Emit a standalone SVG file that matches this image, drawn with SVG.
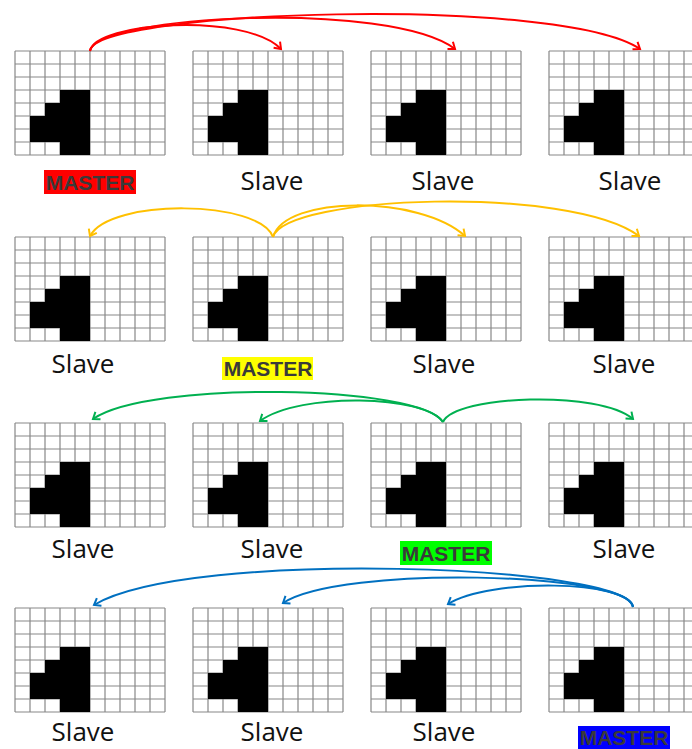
<svg xmlns="http://www.w3.org/2000/svg" xmlns:xlink="http://www.w3.org/1999/xlink" width="692" height="749" viewBox="0 0 692 749">
<style>
.slave{font-family:"Open Sans","Liberation Sans",sans-serif;font-size:26px;fill:#111}
.master{font-family:"Liberation Sans",Arial,sans-serif;font-size:21px;font-weight:bold;fill:#3a3a3a}
.conn{fill:none;stroke-width:2}
.gl{fill:none;stroke:#888;stroke-width:1.2}
</style>
<defs>
<marker id="mr" markerUnits="userSpaceOnUse" markerWidth="14" markerHeight="14" refX="0" refY="0" viewBox="-8 -7 10 14" orient="auto"><path d="M-6,-4.5 L0,0 L-6,4.5" fill="none" stroke="#FF0000" stroke-width="2"/></marker>
<marker id="my" markerUnits="userSpaceOnUse" markerWidth="14" markerHeight="14" refX="0" refY="0" viewBox="-8 -7 10 14" orient="auto"><path d="M-6,-4.5 L0,0 L-6,4.5" fill="none" stroke="#FFC000" stroke-width="2"/></marker>
<marker id="mg" markerUnits="userSpaceOnUse" markerWidth="14" markerHeight="14" refX="0" refY="0" viewBox="-8 -7 10 14" orient="auto"><path d="M-6,-4.5 L0,0 L-6,4.5" fill="none" stroke="#00B050" stroke-width="2"/></marker>
<marker id="mb" markerUnits="userSpaceOnUse" markerWidth="14" markerHeight="14" refX="0" refY="0" viewBox="-8 -7 10 14" orient="auto"><path d="M-6,-4.5 L0,0 L-6,4.5" fill="none" stroke="#0070C0" stroke-width="2"/></marker>
<g id="grid">
<rect x="0" y="0" width="150" height="104" fill="#fff"/>
<path class="gl" d="M0,0V104M15,0V104M30,0V104M45,0V104M60,0V104M75,0V104M90,0V104M105,0V104M120,0V104M135,0V104M150,0V104M0,0H150M0,13H150M0,26H150M0,39H150M0,52H150M0,65H150M0,78H150M0,91H150M0,104H150"/>
<polygon points="45,39 75,39 75,104 45,104 45,91 15,91 15,65 30,65 30,52 45,52" fill="#000"/>
</g>
</defs>
<rect width="692" height="749" fill="#fff"/>

<g id="r1c1"><use xlink:href="#grid" x="15" y="51"/><rect x="44" y="170" width="92" height="24" fill="#FF0000"/><text class="master" x="90" y="190" text-anchor="middle">MASTER</text></g>
<g id="r1c2"><use xlink:href="#grid" x="193" y="51"/><text class="slave" x="272" y="190" text-anchor="middle">Slave</text></g>
<g id="r1c3"><use xlink:href="#grid" x="371" y="51"/><text class="slave" x="443" y="190" text-anchor="middle">Slave</text></g>
<g id="r1c4"><use xlink:href="#grid" x="549" y="51"/><text class="slave" x="630" y="190" text-anchor="middle">Slave</text></g>

<g id="r2c1"><use xlink:href="#grid" x="15" y="237"/><text class="slave" x="83" y="373" text-anchor="middle">Slave</text></g>
<g id="r2c2"><use xlink:href="#grid" x="193" y="237"/><rect x="222" y="357" width="91" height="23" fill="#FFFF00"/><text class="master" x="268" y="376" text-anchor="middle">MASTER</text></g>
<g id="r2c3"><use xlink:href="#grid" x="371" y="237"/><text class="slave" x="444" y="373" text-anchor="middle">Slave</text></g>
<g id="r2c4"><use xlink:href="#grid" x="549" y="237"/><text class="slave" x="624" y="373" text-anchor="middle">Slave</text></g>

<g id="r3c1"><use xlink:href="#grid" x="15" y="423"/><text class="slave" x="83" y="558" text-anchor="middle">Slave</text></g>
<g id="r3c2"><use xlink:href="#grid" x="193" y="423"/><text class="slave" x="272" y="558" text-anchor="middle">Slave</text></g>
<g id="r3c3"><use xlink:href="#grid" x="371" y="423"/><rect x="400" y="541" width="92" height="24" fill="#00FF00"/><text class="master" x="446" y="561" text-anchor="middle">MASTER</text></g>
<g id="r3c4"><use xlink:href="#grid" x="549" y="423"/><text class="slave" x="624" y="558" text-anchor="middle">Slave</text></g>

<g id="r4c1"><use xlink:href="#grid" x="15" y="608"/><text class="slave" x="83" y="741" text-anchor="middle">Slave</text></g>
<g id="r4c2"><use xlink:href="#grid" x="193" y="608"/><text class="slave" x="272" y="741" text-anchor="middle">Slave</text></g>
<g id="r4c3"><use xlink:href="#grid" x="371" y="608"/><text class="slave" x="444" y="741" text-anchor="middle">Slave</text></g>
<g id="r4c4"><use xlink:href="#grid" x="549" y="608"/><rect x="578" y="726" width="92" height="23" fill="#0000FF"/><text class="master" x="624" y="745" text-anchor="middle">MASTER</text></g>

<g id="connectors">
<g stroke="#FF0000">
<path class="conn" d="M90,51 C95,22 245,12 281,49" marker-end="url(#mr)"/>
<path class="conn" d="M90,51 C95,15 390,0 455,49" marker-end="url(#mr)"/>
<path class="conn" d="M90,51 C95,10 560,-5 640,49" marker-end="url(#mr)"/>
</g>
<g stroke="#FFC000">
<path class="conn" d="M273,237 C260,200 110,198 90,236" marker-end="url(#my)"/>
<path class="conn" d="M273,237 C285,195 420,195 465,236" marker-end="url(#my)"/>
<path class="conn" d="M273,237 C285,195 570,185 639,236" marker-end="url(#my)"/>
</g>
<g stroke="#00B050">
<path class="conn" d="M443,422 C420,385 150,380 93,419" marker-end="url(#mg)"/>
<path class="conn" d="M443,422 C425,395 300,392 260,421" marker-end="url(#mg)"/>
<path class="conn" d="M443,422 C455,395 600,390 633,419" marker-end="url(#mg)"/>
</g>
<g stroke="#0070C0">
<path class="conn" d="M633,607 C630,565 190,548 94,605" marker-end="url(#mb)"/>
<path class="conn" d="M633,607 C628,572 340,565 283,603" marker-end="url(#mb)"/>
<path class="conn" d="M633,607 C628,580 490,578 448,604" marker-end="url(#mb)"/>
</g>
</g>
</svg>
